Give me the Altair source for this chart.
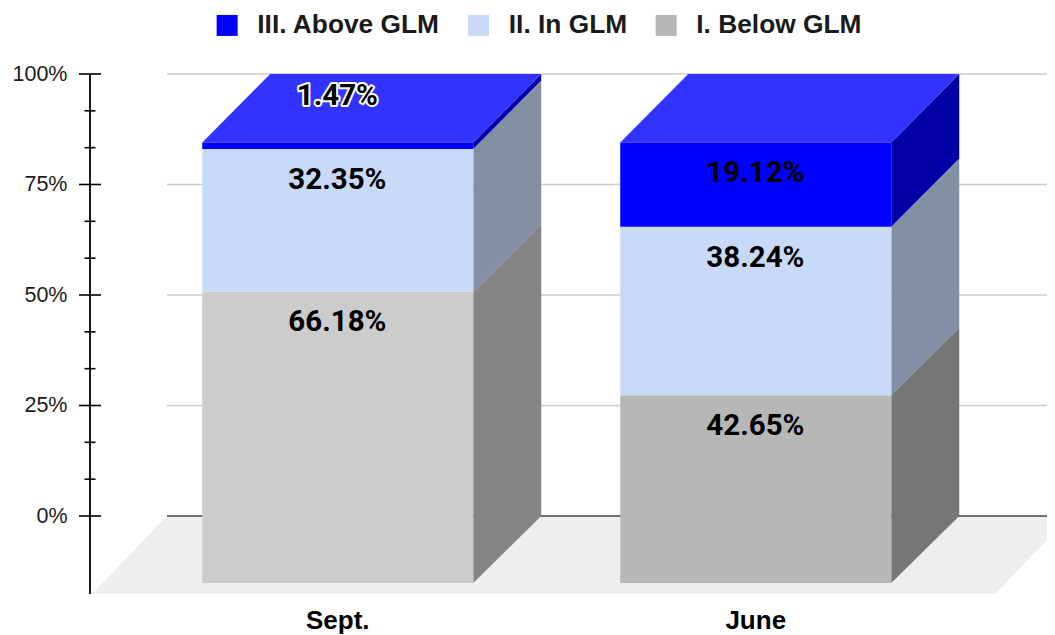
import altair as alt
import pandas as pd

# ---- values
categories = ["Sept.", "June"]
series = ["I. Below GLM", "II. In GLM", "III. Above GLM"]
values_sept = [66.18, 32.35, 1.47]
values_june = [42.65, 38.24, 19.12]
major_ticks = [0, 25, 50, 75, 100]
minor_ticks = [8.33, 16.67, 33.33, 41.67, 58.33, 66.67, 83.33, 91.67]

# ---- styles
legend_order = ["III. Above GLM", "II. In GLM", "I. Below GLM"]
legend_colors = ["#0000ff", "#c9daf8", "#b7b7b7"]
front_colors = {
    "Sept.": {"I. Below GLM": "#cccccc", "II. In GLM": "#c9daf8", "III. Above GLM": "#0000ff"},
    "June": {"I. Below GLM": "#b7b7b7", "II. In GLM": "#c9daf8", "III. Above GLM": "#0000ff"},
}
side_colors = {
    "Sept.": {"I. Below GLM": "#858585", "II. In GLM": "#838fa3", "III. Above GLM": "#0000a6"},
    "June": {"I. Below GLM": "#767676", "II. In GLM": "#838fa3", "III. Above GLM": "#0000a6"},
}

# ---- pseudo-3D geometry in data units
PX_X = 418.0               # px per category step
PX_Y = 4.42                # px per percent
HALF = 135.5 / PX_X
DEPTH = 68.0 / PX_X
FLOOR_DEPTH = 75.0 / PX_X
XMIN = -(337.75 - 90) / PX_X
XMAX = (1047 - 337.75) / PX_X
YMIN = -(594 - 516) / PX_Y
FLOOR_LEFT_FRONT = XMIN + 2 / PX_X
FLOOR_RIGHT_FRONT = (995 - 337.75) / PX_X
LABEL_DROP = 31 / PX_Y
THIN_LABEL_Y = (516 - 96) / PX_Y


def front(v):
    return v * 0.9966 - 67.0 / PX_Y


xs = alt.Scale(domain=[XMIN, XMAX], nice=False, zero=False)
ys = alt.Scale(domain=[YMIN, 100], nice=False, zero=False)
y_axis_spec = alt.Axis(
    values=major_ticks, ticks=False, domain=False, grid=False, labelExpr="datum.value + '%'",
    labelFont="Liberation Sans", labelFontSize=21.5, labelColor="#1a1a1a", labelPadding=23, title=None,
)
X = lambda f: alt.X(f, type="quantitative", scale=xs, axis=None)
Y = lambda f: alt.Y(f, type="quantitative", scale=ys, axis=y_axis_spec)

fronts, sides, tops, labels = [], [], [], []
for i, (cat, vals) in enumerate(zip(categories, [values_sept, values_june])):
    base = 0.0
    for s, v in zip(series, vals):
        top = base + v
        key = f"{cat}-{s}"
        fronts.append(dict(cat=cat, series=s, x=i - HALF, x2=i + HALF, y=front(top), y2=front(base),
                           color=front_colors[cat][s]))
        for dx, fn in ((0.0, front), (DEPTH, lambda t: t)):
            sides.append(dict(key=key, x=i + HALF + dx, y=fn(top), y2=fn(base), color=side_colors[cat][s]))
        thin = v < 5
        labels.append(dict(x=i - 0.001, y=THIN_LABEL_Y if thin else front(top) - LABEL_DROP,
                           text=f"{v:.2f}%", halo=thin))
        base = top
    for dx, fn in ((0.0, front), (DEPTH, lambda t: t)):
        tops.append(dict(key=cat, y=fn(100), x=i - HALF + dx, x2=i + HALF + dx))

fronts = pd.DataFrame(fronts)
sides = pd.DataFrame(sides)
tops = pd.DataFrame(tops)
labels = pd.DataFrame(labels)
floor = pd.DataFrame([
    dict(y=YMIN, x=FLOOR_LEFT_FRONT, x2=FLOOR_RIGHT_FRONT),
    dict(y=0, x=FLOOR_LEFT_FRONT + FLOOR_DEPTH, x2=FLOOR_RIGHT_FRONT + FLOOR_DEPTH),
])

wall_left = XMIN + 77 / PX_X
grid = alt.Chart(pd.DataFrame({"v": major_ticks[1:], "a": wall_left, "b": XMAX})).mark_rule(
    color="#cccccc", strokeWidth=1.6
).encode(x=X("a:Q"), x2="b:Q", y=Y("v:Q"))
baseline = alt.Chart(pd.DataFrame({"v": [0], "a": wall_left, "b": XMAX})).mark_rule(
    color="#444444", strokeWidth=1.6
).encode(x=X("a:Q"), x2="b:Q", y=Y("v:Q"))

floor_l = alt.Chart(floor).mark_area(orient="horizontal", color="#eeeeee", clip=True, opacity=1).encode(
    y=Y("y:Q"), x=X("x:Q"), x2="x2:Q"
)
side_l = alt.Chart(sides).mark_area(orient="vertical", opacity=1).encode(
    x=X("x:Q"), y=Y("y:Q"), y2="y2:Q", color=alt.Color("color:N", scale=None), detail="key:N"
)
top_l = alt.Chart(tops).mark_area(orient="horizontal", color="#3333ff", opacity=1).encode(
    y=Y("y:Q"), x=X("x:Q"), x2="x2:Q", detail="key:N"
)
front_sept = alt.Chart(fronts[fronts.cat == "Sept."]).mark_rect(opacity=1).encode(
    x=X("x:Q"), x2="x2:Q", y=Y("y:Q"), y2="y2:Q", color=alt.Color("color:N", scale=None)
)
front_june = alt.Chart(fronts[fronts.cat == "June"]).mark_rect(opacity=1).encode(
    x=X("x:Q"), x2="x2:Q", y=Y("y:Q"), y2="y2:Q",
    color=alt.Color(
        "series:N",
        scale=alt.Scale(domain=legend_order, range=legend_colors),
        sort=legend_order,
        legend=alt.Legend(
            title=None, orient="none", direction="horizontal", legendX=124, legendY=-62,
            symbolType="square", symbolSize=441, symbolStrokeWidth=0, symbolOpacity=1,
            labelFont="Liberation Sans", labelFontSize=26.3, labelFontWeight="bold", labelColor="#1a1a1a",
            labelOffset=17, columnPadding=25.5, padding=0, labelLimit=400,
        ),
    ),
)

halo = alt.Chart(labels[labels.halo]).mark_text(
    font="Roboto", fontSize=29.5, fontWeight="bold", stroke="white", strokeWidth=4,
    strokeJoin="round", baseline="middle", align="center",
).encode(x=X("x:Q"), y=Y("y:Q"), text="text:N")
text_l = alt.Chart(labels).mark_text(
    font="Roboto", fontSize=29.5, fontWeight="bold", color="black", baseline="middle", align="center",
).encode(x=X("x:Q"), y=Y("y:Q"), text="text:N")

# axis furniture
tick_major = alt.Chart(pd.DataFrame({"v": major_ticks})).mark_rule(color="black", strokeWidth=1.6).encode(
    x=alt.value(-11), x2=alt.value(11), y=Y("v:Q")
)
tick_minor = alt.Chart(pd.DataFrame({"v": minor_ticks})).mark_rule(color="black", strokeWidth=1.6).encode(
    x=alt.value(-5.5), x2=alt.value(5.5), y=Y("v:Q")
)
domain = alt.Chart(pd.DataFrame({"a": [YMIN], "b": [100]})).mark_rule(color="black", strokeWidth=1.8).encode(
    x=alt.value(0), y=Y("a:Q"), y2="b:Q"
)
x_labels = alt.Chart(pd.DataFrame({"x": [0, 1], "y": YMIN, "cat": categories})).mark_text(
    font="Liberation Sans", fontSize=26, fontWeight="bold", color="black", baseline="middle", dy=27
).encode(x=X("x:Q"), y=Y("y:Q"), text="cat:N")

chart = alt.layer(
    grid, floor_l, baseline, side_l, top_l, front_sept, front_june, halo, text_l,
    tick_major, tick_minor, domain, x_labels
).resolve_scale(color="independent").properties(
    width=957, height=520,
    padding={"left": 82, "top": 66, "right": 0, "bottom": 41},
    autosize=alt.AutoSizeParams(type="none"),
    background="white",
).configure_view(stroke=None)

chart.save("out.html", embed_options={"renderer": "svg", "actions": False})
